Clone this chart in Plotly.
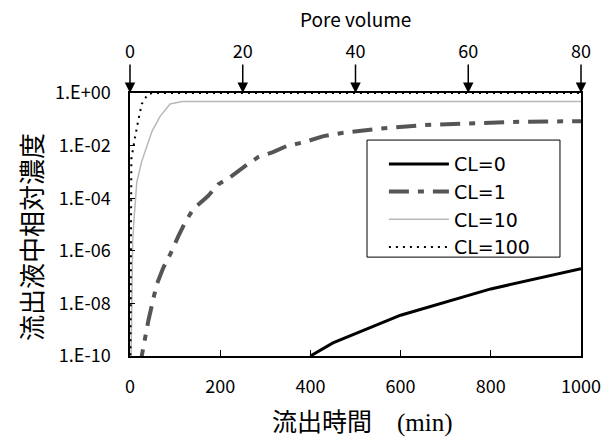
import numpy as np
import plotly.graph_objects as go

# Elapsed time (min) and log10 of relative effluent concentration for each CL
t_cl0 = [400, 450, 600, 800, 1000]
logc_cl0 = [-10.0, -9.5, -8.45, -7.45, -6.68]

t_cl1 = [22, 26, 41, 50, 59, 74, 89, 107, 122, 140, 173, 196, 222, 255, 284, 317, 347,
         388, 429, 470, 554, 650, 750, 850, 1000]
logc_cl1 = [-10.5, -10.0, -8.63, -7.98, -7.29, -6.64, -6.14, -5.45, -4.92, -4.42, -3.92,
            -3.47, -3.2, -2.78, -2.44, -2.25, -2.02, -1.86, -1.64, -1.52, -1.35, -1.22,
            -1.15, -1.1, -1.07]

t_cl10 = [2, 4, 6, 9, 15, 26, 49, 67, 89, 115, 150, 1000]
logc_cl10 = [-10.5, -6.8, -5.6, -4.8, -3.4, -2.6, -1.45, -0.88, -0.42, -0.32, -0.32, -0.32]

t_cl100 = [0.5, 1, 3, 7, 11, 18, 26, 39, 50, 1000]
logc_cl100 = [-10.5, -10.0, -2.5, -2.0, -1.7, -1.07, -0.42, -0.05, 0.0, 0.0]

series_names = ["CL=0", "CL=1", "CL=10", "CL=100"]

y_tick_exps = [0, -2, -4, -6, -8, -10]
y_tick_text = ["1.E+00", "1.E-02", "1.E-04", "1.E-06", "1.E-08", "1.E-10"]
x_ticks = [0, 200, 400, 600, 800, 1000]
pv_ticks = [0, 20, 40, 60, 80]

tick_font = dict(family="Noto Sans CJK JP", size=18, color="black")

styles = [
    dict(color="black", width=3),
    dict(color="#555555", width=4, dash="20px,9px,6px,9px"),
    dict(color="#b8b8b8", width=1.5),
    dict(color="black", width=2, dash="2px,5px"),
]

fig = go.Figure()
for name, t, lc, st in zip(series_names,
                           [t_cl0, t_cl1, t_cl10, t_cl100],
                           [logc_cl0, logc_cl1, logc_cl10, logc_cl100],
                           styles):
    fig.add_trace(go.Scatter(x=t, y=10 ** np.array(lc), mode="lines", name=name,
                             line=st, hoverinfo="skip"))

# invisible trace so the pore-volume axis is drawn on top
fig.add_trace(go.Scatter(x=[pv_ticks[0], pv_ticks[-1]], y=[1e-10, 1e-10], xaxis="x2",
                         mode="markers", marker=dict(opacity=0), showlegend=False,
                         hoverinfo="skip"))

fig.update_layout(
    width=614, height=441,
    margin=dict(l=130, r=33, t=93, b=85),
    paper_bgcolor="white", plot_bgcolor="white",
    showlegend=True,
    legend=dict(x=0.563, y=0.802, xanchor="left", yanchor="top",
                bgcolor="rgba(0,0,0,0)", borderwidth=0,
                font=dict(family="DejaVu Sans", size=19, color="black"),
                itemwidth=60, tracegroupgap=0),
    xaxis=dict(range=[0, 1000], tickvals=x_ticks, ticks="inside", ticklen=6,
               tickcolor="black", showline=True, linecolor="black", linewidth=1.5,
               mirror=True, showgrid=False, zeroline=False, tickfont=tick_font,
               ticklabelstandoff=14),
    xaxis2=dict(range=[0, 80], overlaying="x", side="top", tickvals=pv_ticks,
                ticks="", showline=False, showgrid=False, zeroline=False,
                tickfont=tick_font, ticklabelstandoff=30),
    yaxis=dict(type="log", range=[-10, 0], tickvals=[10.0 ** e for e in y_tick_exps],
               ticktext=y_tick_text, ticks="inside", ticklen=5, tickcolor="black",
               showline=True, linecolor="black", linewidth=1.5, mirror=True,
               showgrid=False, zeroline=False, tickfont=tick_font,
               ticklabelstandoff=14),
)

# framed box behind the legend entries
fig.add_shape(type="rect", xref="paper", yref="paper", x0=0.5255, x1=0.9534,
              y0=0.376, y1=0.821, fillcolor="white", line=dict(color="black", width=1),
              layer="below")

# downward arrows marking pore volumes
for pv in pv_ticks:
    fig.add_annotation(x=pv, xref="x2", y=1, yref="paper", ax=0, ay=-30, text="",
                       showarrow=True, arrowhead=2, arrowsize=1.4, arrowwidth=1.5,
                       arrowcolor="black")

fig.add_annotation(text="Pore volume", x=0.5, xref="paper", y=1, yref="paper",
                   yshift=75, showarrow=False, xanchor="center", yanchor="middle",
                   font=dict(family="Noto Sans CJK JP", size=19, color="black"))

fig.add_annotation(
    text='流出時間　<span style="font-family:Liberation Serif">(min)</span>',
    x=0.5, xref="paper", y=0, yref="paper", yshift=-64, xshift=7,
    showarrow=False, xanchor="center", yanchor="middle",
    font=dict(family="Noto Sans CJK JP", size=25, color="black"))

fig.add_annotation(text="流出液中相対濃度", x=0, xref="paper", xshift=-100,
                   y=0.452, yref="paper", textangle=-90, showarrow=False,
                   xanchor="center", yanchor="middle",
                   font=dict(family="Noto Sans CJK JP", size=26, color="black"))

fig.write_html("out.html")
